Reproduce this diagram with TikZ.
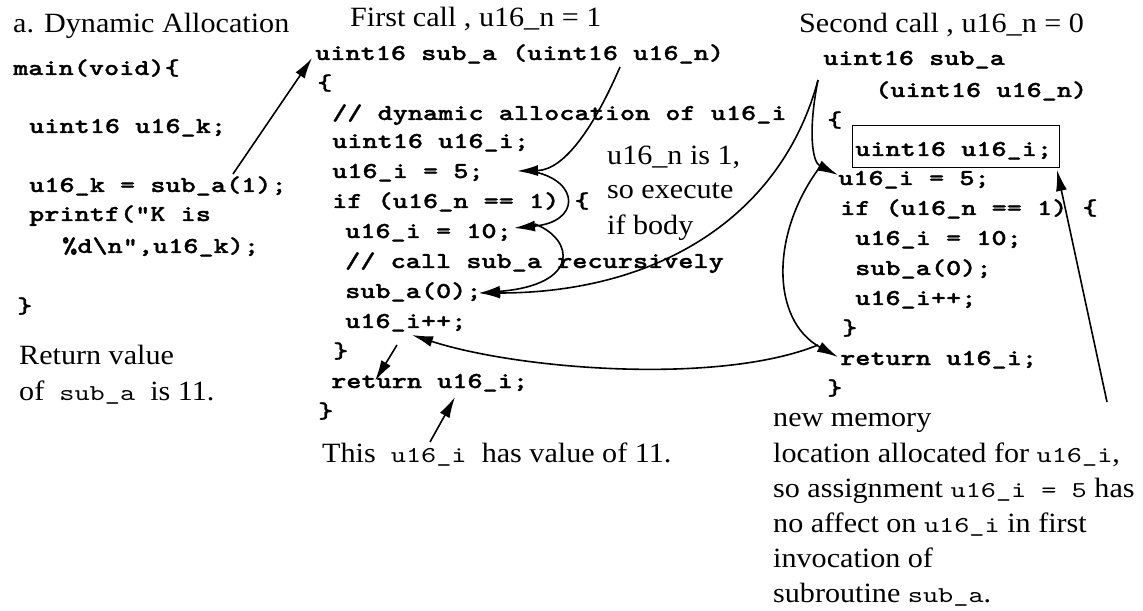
\documentclass[tikz,border=0pt]{standalone}
\usepackage{fontspec}
\setmainfont{Liberation Serif}[FakeStretch=1.08]
\setmonofont{lmmono10-regular.otf}[BoldFont=lmmonolt10-bold.otf, BoldFeatures={FakeBold=1.2}, FakeStretch=1.27]
\usetikzlibrary{arrows.meta}
\newcommand{\icode}[1]{{\fontsize{22.8}{30}\selectfont\ttfamily #1}}

\begin{document}
\begin{tikzpicture}[x=1bp,y=-1bp,
  txt/.style={anchor=base west, inner sep=0pt, font=\fontsize{28}{34}\selectfont},
  code/.style={anchor=base west, inner sep=0pt, font=\fontsize{22.8}{30}\selectfont\ttfamily\bfseries},
  flow/.style={line width=1.6bp, -{Latex[length=21bp,width=11bp]}},
]
\useasboundingbox (0,0) rectangle (1143,611);

% ---- main program ----
\node[txt]  (title) at (13,33)  {a. Dynamic Allocation};
\node[code] (m0) at (13,75)  {main(void)\{};
\node[code] (m1) at (29,133) {uint16 u16\_k;};
\node[code] (m2) at (29,192) {u16\_k = sub\_a(1);};
\node[code] (m3) at (29,221) {printf("K is};
\node[code] (m4) at (62,253) {\%d\textbackslash n",u16\_k);};
\node[code] (m5) at (17,313) {\}};
\node[txt]  (r1) at (19,364) {Return value};
\node[txt]  (r2) at (19,400) {of\icode{\ sub\_a\ }is 11.};

% ---- first invocation ----
\node[txt]  (fcall) at (350,27) {First call , u16\_n = 1};
\node[code] (f0)  at (315,60)  {uint16 sub\_a (uint16 u16\_n)};
\node[code] (f1)  at (317,90)  {\{};
\node[code] (f2)  at (332,120) {// dynamic allocation of u16\_i};
\node[code] (f3)  at (332,148) {uint16 u16\_i;};
\node[code] (f4)  at (332,178) {u16\_i = 5;};
\node[code] (f5)  at (332,208) {if (u16\_n == 1) \{};
\node[code] (f6)  at (345,238) {u16\_i = 10;};
\node[code] (f7)  at (345,268) {// call sub\_a recursively};
\node[code] (f8)  at (345,298) {sub\_a(0);};
\node[code] (f9)  at (345,328) {u16\_i++;};
\node[code] (f10) at (333,358) {\}};
\node[code] (f11) at (331,388) {return u16\_i;};
\node[code] (f12) at (318,418) {\}};
\node[txt]  (val) at (322,462) {This\icode{\ u16\_i\ }has value of 11.};

\node[txt] (n1) at (607,165) {u16\_n is 1,};
\node[txt] (n2) at (607,199) {so execute};
\node[txt] (n3) at (607,235) {if body};

% ---- second invocation ----
\node[txt]  (scall) at (799,33) {Second call , u16\_n = 0};
\node[code] (s0)  at (823,65)  {uint16 sub\_a};
\node[code] (s1)  at (875,97)  {(uint16 u16\_n)};
\node[code] (s2)  at (827,127) {\{};
\node[code] (s3)  at (855,156) {uint16 u16\_i;};
\node[code] (s4)  at (838,185) {u16\_i = 5;};
\node[code] (s5)  at (840,215) {if (u16\_n == 1) \{};
\node[code] (s6)  at (855,245) {u16\_i = 10;};
\node[code] (s7)  at (855,275) {sub\_a(0);};
\node[code] (s8)  at (855,305) {u16\_i++;};
\node[code] (s9)  at (842,335) {\}};
\node[code] (s10) at (840,365) {return u16\_i;};
\node[code] (s11) at (827,395) {\}};
\node[draw, line width=1.4bp, inner sep=0pt, minimum width=207bp, minimum height=42bp,
      anchor=north west] (box) at (852,125) {};

\node[txt] (p1) at (773,426) {new memory};
\node[txt] (p2) at (773,462) {location allocated for \icode{u16\_i},};
\node[txt] (p3) at (773,497) {so assignment \icode{u16\_i = 5} has};
\node[txt] (p4) at (773,532) {no affect on \icode{u16\_i} in first};
\node[txt] (p5) at (773,567) {invocation of};
\node[txt] (p6) at (773,602) {subroutine \icode{sub\_a}.};

% ---- connector end points ----
\coordinate (callA)  at (233,174);
\coordinate (hdrA)   at (312,58);
\coordinate (argA)   at (620,67);
\coordinate (fiveA)  at (517,171);
\coordinate (fiveB)  at (535,172);
\coordinate (tenA)   at (514,228);
\coordinate (tenB)   at (535,224);
\coordinate (subA)   at (479,293);
\coordinate (hdrB)   at (818,80);
\coordinate (fiveC)  at (838,175);
\coordinate (fiveD)  at (823,163);
\coordinate (retB)   at (838,357);
\coordinate (retC)   at (818,345);
\coordinate (incA)   at (412,335);
\coordinate (braceA) at (397,345);
\coordinate (retA)   at (375,381);
\coordinate (valA)   at (430,442);
\coordinate (valB)   at (455,397);
\coordinate (noteA)  at (1107,402);
\coordinate (boxA)   at (1057,170);

% ---- control flow ----
\draw[flow] (callA) -- (hdrA);
\draw[flow] (argA) .. controls (595,125) and (565,170) .. (fiveA);
\draw[flow] (fiveB) .. controls (580,182) and (580,222) .. (tenA);
\draw[flow] (tenB) .. controls (575,240) and (580,285) .. (subA);
\draw[flow] (hdrB) .. controls (782,215) and (660,293) .. (subA);
\draw[flow] (hdrB) .. controls (808,130) and (812,162) .. (fiveC);
\draw[flow] (fiveD) .. controls (770,230) and (770,320) .. (retB);
\draw[flow] (retC) .. controls (720,385) and (520,370) .. (incA);
\draw[flow] (braceA) -- (retA);
\draw[flow] (valA) -- (valB);
\draw[flow] (noteA) -- (boxA);
\end{tikzpicture}
\end{document}
